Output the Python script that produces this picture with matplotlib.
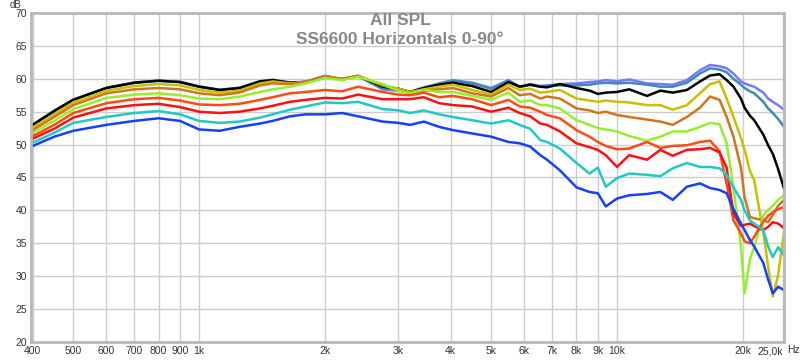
import matplotlib
matplotlib.use('Agg')
import matplotlib.pyplot as plt
import numpy as np

# frequency points (Hz)
freq = [400, 450, 500, 600, 700, 800, 900, 1000, 1120, 1250, 1400, 1500, 1650, 1800,
        2000, 2200, 2400, 2750, 3000, 3200, 3450, 3750, 4050, 4500, 5000, 5500, 5850,
        6200, 6550, 6800, 7300, 8000, 8600, 9000, 9400, 10000, 10700, 11800, 12700,
        13600, 14700, 15800, 16700, 17600, 18300, 19000, 19800, 20200, 20800, 21300,
        22400, 23000, 23600, 24300, 25100]

spl_0 = [53.05, 55.15, 56.85, 58.65, 59.45, 59.75, 59.55, 58.85, 58.35, 58.65, 59.65, 59.85,
         59.45, 59.55, 60.45, 59.95, 60.45, 58.4, 58.2, 58.0, 58.7, 59.3, 59.8, 59.4, 58.6,
         59.8, 58.8, 59.2, 58.9, 59.0, 59.2, 59.3, 59.5, 59.6, 59.8, 59.6, 59.9, 59.3, 59.2,
         59.1, 59.8, 61.3, 62.1, 61.9, 61.6, 60.8, 59.6, 59.3, 59.0, 58.8, 57.9, 57.0, 56.5,
         56.0, 55.3]
spl_10 = [53.0, 55.1, 56.8, 58.6, 59.4, 59.7, 59.5, 58.8, 58.3, 58.6, 59.6, 59.8,
          59.4, 59.5, 60.4, 59.9, 60.4, 58.5, 58.3, 58.0, 58.6, 59.2, 59.7, 59.3, 58.5,
          59.7, 58.8, 59.1, 58.8, 58.9, 59.0, 59.0, 59.1, 59.3, 59.4, 59.3, 59.4, 59.1, 58.8,
          58.8, 59.4, 60.8, 61.6, 61.4, 61.0, 60.0, 59.1, 58.6, 58.1, 57.8, 56.5, 55.5, 54.8,
          53.9, 52.7]
spl_20 = [53.0, 55.1, 56.8, 58.6, 59.4, 59.7, 59.5, 58.8, 58.3, 58.6, 59.6, 59.8,
          59.4, 59.5, 60.4, 59.9, 60.4, 58.8, 58.5, 58.0, 58.6, 59.1, 59.4, 58.9, 58.0,
          59.5, 58.8, 59.1, 58.8, 58.7, 59.2, 58.6, 58.2, 57.7, 57.9, 58.0, 58.4, 57.4, 58.2,
          57.9, 58.3, 59.6, 60.5, 60.7, 59.8, 58.8, 57.0, 55.6, 54.4, 53.7, 51.5, 49.9, 48.6,
          46.3, 43.3]
spl_30 = [52.6, 54.6, 56.4, 58.2, 58.9, 59.2, 59.0, 58.3, 57.9, 58.2, 59.3, 59.6,
          59.3, 59.5, 60.4, 60.0, 60.5, 59.0, 58.5, 58.0, 58.4, 58.8, 59.1, 58.3, 57.6,
          59.1, 58.3, 58.5, 57.9, 58.0, 58.3, 57.0, 56.7, 56.5, 56.7, 56.5, 56.4, 56.0, 56.0,
          55.3, 56.0, 57.8, 59.2, 59.6, 57.0, 54.2, 51.0, 49.2, 46.0, 44.6, 36.6, 31.5, 26.9,
          30.2, 36.6]
spl_40 = [52.2, 54.2, 56.0, 57.8, 58.4, 58.6, 58.4, 57.8, 57.5, 57.9, 59.0, 59.3,
          59.2, 59.6, 60.3, 60.0, 60.4, 59.0, 58.3, 57.9, 58.2, 58.4, 58.6, 57.8, 57.3,
          58.6, 57.5, 57.7, 57.0, 57.3, 57.0, 55.5, 55.2, 54.8, 55.0, 54.5, 54.2, 53.8, 53.5,
          53.0, 54.2, 55.6, 57.3, 56.8, 54.2, 51.2, 46.5, 42.0, 39.0, 38.8, 38.5, 38.2, 39.3,
          40.7, 41.6]
spl_50 = [51.8, 53.6, 55.4, 57.1, 57.6, 57.8, 57.5, 57.0, 56.9, 57.3, 58.0, 58.4,
          58.8, 59.3, 60.1, 59.8, 60.3, 59.2, 58.2, 57.8, 58.3, 58.0, 58.0, 57.4, 56.8,
          57.9, 56.5, 56.7, 56.0, 56.0, 55.5, 53.7, 53.0, 52.5, 52.3, 52.0, 51.3, 50.6, 51.2,
          52.0, 52.0, 52.7, 53.3, 53.1, 50.2, 43.5, 34.5, 27.4, 32.5, 34.5, 39.2, 40.1, 40.7,
          41.6, 42.3]
spl_60 = [51.3, 53.0, 54.8, 56.3, 56.9, 57.1, 56.7, 56.1, 56.0, 56.2, 56.8, 57.2,
          57.8, 58.0, 58.3, 58.1, 58.8, 58.0, 57.6, 57.5, 57.9, 57.2, 57.4, 56.9, 56.0,
          56.8, 55.8, 55.6, 55.0, 54.5, 54.0, 52.2, 51.2, 50.4, 49.8, 49.3, 49.4, 50.4, 49.5,
          49.8, 49.9, 50.4, 50.6, 49.0, 44.0, 38.5, 36.5, 35.3, 35.0, 36.0, 38.3, 39.2, 39.7,
          40.2, 40.5]
spl_70 = [50.9, 52.4, 54.1, 55.5, 56.0, 56.2, 55.7, 55.0, 54.8, 55.0, 55.5, 55.9,
          56.5, 56.8, 57.1, 57.0, 57.6, 56.9, 56.9, 56.9, 57.2, 56.3, 56.0, 55.8, 55.0,
          55.6, 54.8, 54.3, 53.2, 53.0, 52.0, 50.2, 49.6, 49.2, 48.4, 46.6, 48.4, 47.7, 49.2,
          48.3, 49.2, 49.3, 49.5, 48.8, 46.5, 39.5, 37.6, 37.8, 38.0, 37.6, 37.0, 37.5, 38.2,
          38.0, 37.3]
spl_80 = [50.3, 51.8, 53.3, 54.2, 54.8, 55.1, 54.6, 53.6, 53.3, 53.5, 54.1, 54.6,
          55.3, 55.8, 56.4, 56.3, 56.5, 55.4, 55.2, 54.8, 55.2, 54.6, 54.2, 53.7, 53.2,
          53.7, 53.0, 52.4, 50.7, 50.4, 49.4, 47.2, 45.6, 46.5, 43.6, 44.9, 45.6, 45.4, 45.2,
          46.4, 47.2, 46.6, 46.6, 46.4, 45.4, 43.5, 41.6, 40.0, 38.5, 38.0, 37.0, 34.5, 32.9,
          34.4, 33.2]
spl_90 = [49.8, 51.2, 52.1, 53.0, 53.6, 54.0, 53.6, 52.3, 52.1, 52.7, 53.2, 53.6,
          54.3, 54.6, 54.6, 54.8, 54.3, 53.5, 53.3, 53.0, 53.5, 52.7, 52.2, 51.7, 51.2,
          50.4, 50.2, 49.7, 48.4, 47.7, 46.1, 43.5, 42.8, 42.6, 40.6, 41.8, 42.3, 42.5, 42.8,
          41.6, 43.6, 44.1, 43.4, 43.1, 42.6, 40.2, 38.0, 37.0, 35.5, 34.5, 32.0, 29.5, 27.4,
          28.4, 27.9]

curves = [spl_0, spl_10, spl_20, spl_30, spl_40, spl_50, spl_60, spl_70, spl_80, spl_90]
colors = ['#7878ff', '#3a8cb4', '#000000', '#c8c000', '#d2741e',
          '#96ee32', '#ff4a14', '#ff1010', '#20c8c8', '#1440ff']

xticks = [400, 500, 600, 700, 800, 900, 1000, 2000, 3000, 4000, 5000, 6000, 7000,
          8000, 9000, 10000, 20000, 25000]
xlabels = ['400', '500', '600', '700', '800', '900', '1k', '2k', '3k', '4k', '5k', '6k',
           '7k', '8k', '9k', '10k', '20k', '25,0k']
yticks = [20, 25, 30, 35, 40, 45, 50, 55, 60, 65, 70]

plt.rcParams['font.family'] = ['Liberation Sans', 'DejaVu Sans']

fig = plt.figure(figsize=(8, 3.6), dpi=100, facecolor='white')
ax = fig.add_axes([0.03875, 0.05, 0.94125, 0.9139])

for spl, c in zip(curves, colors):
    ax.plot(freq, spl, color=c, lw=1.8, solid_joinstyle='round')

ax.set_xscale('log')
ax.set_xlim(396, 25100)
ax.set_ylim(20, 70)
ax.set_xticks(xticks)
ax.set_xticklabels(xlabels)
ax.xaxis.set_minor_locator(matplotlib.ticker.NullLocator())
ax.set_yticks(yticks)
ax.tick_params(length=0, labelsize=7.5, colors='#333333', pad=3)
ax.get_xticklabels()[-1].set_horizontalalignment('right')
ax.grid(True, color='#cccccc', lw=1)
ax.set_axisbelow(True)
for s in ax.spines.values():
    s.set_color('#b8b8b8')
    s.set_linewidth(2)

# two line title, grey bold
fig.text(0.5, 0.944, 'All SPL', ha='center', va='center', fontsize=12.5,
         fontweight='bold', color='#888888')
fig.text(0.5, 0.889, 'SS6600 Horizontals 0-90\u00b0', ha='center', va='center',
         fontsize=12.5, fontweight='bold', color='#888888')
fig.text(0.012, 0.985, 'dB', ha='left', va='center', fontsize=7, color='#333333')
fig.text(0.984, 0.027, 'Hz', ha='left', va='center', fontsize=7.5, color='#333333')

fig.savefig('out.png', dpi=100, facecolor='white')
